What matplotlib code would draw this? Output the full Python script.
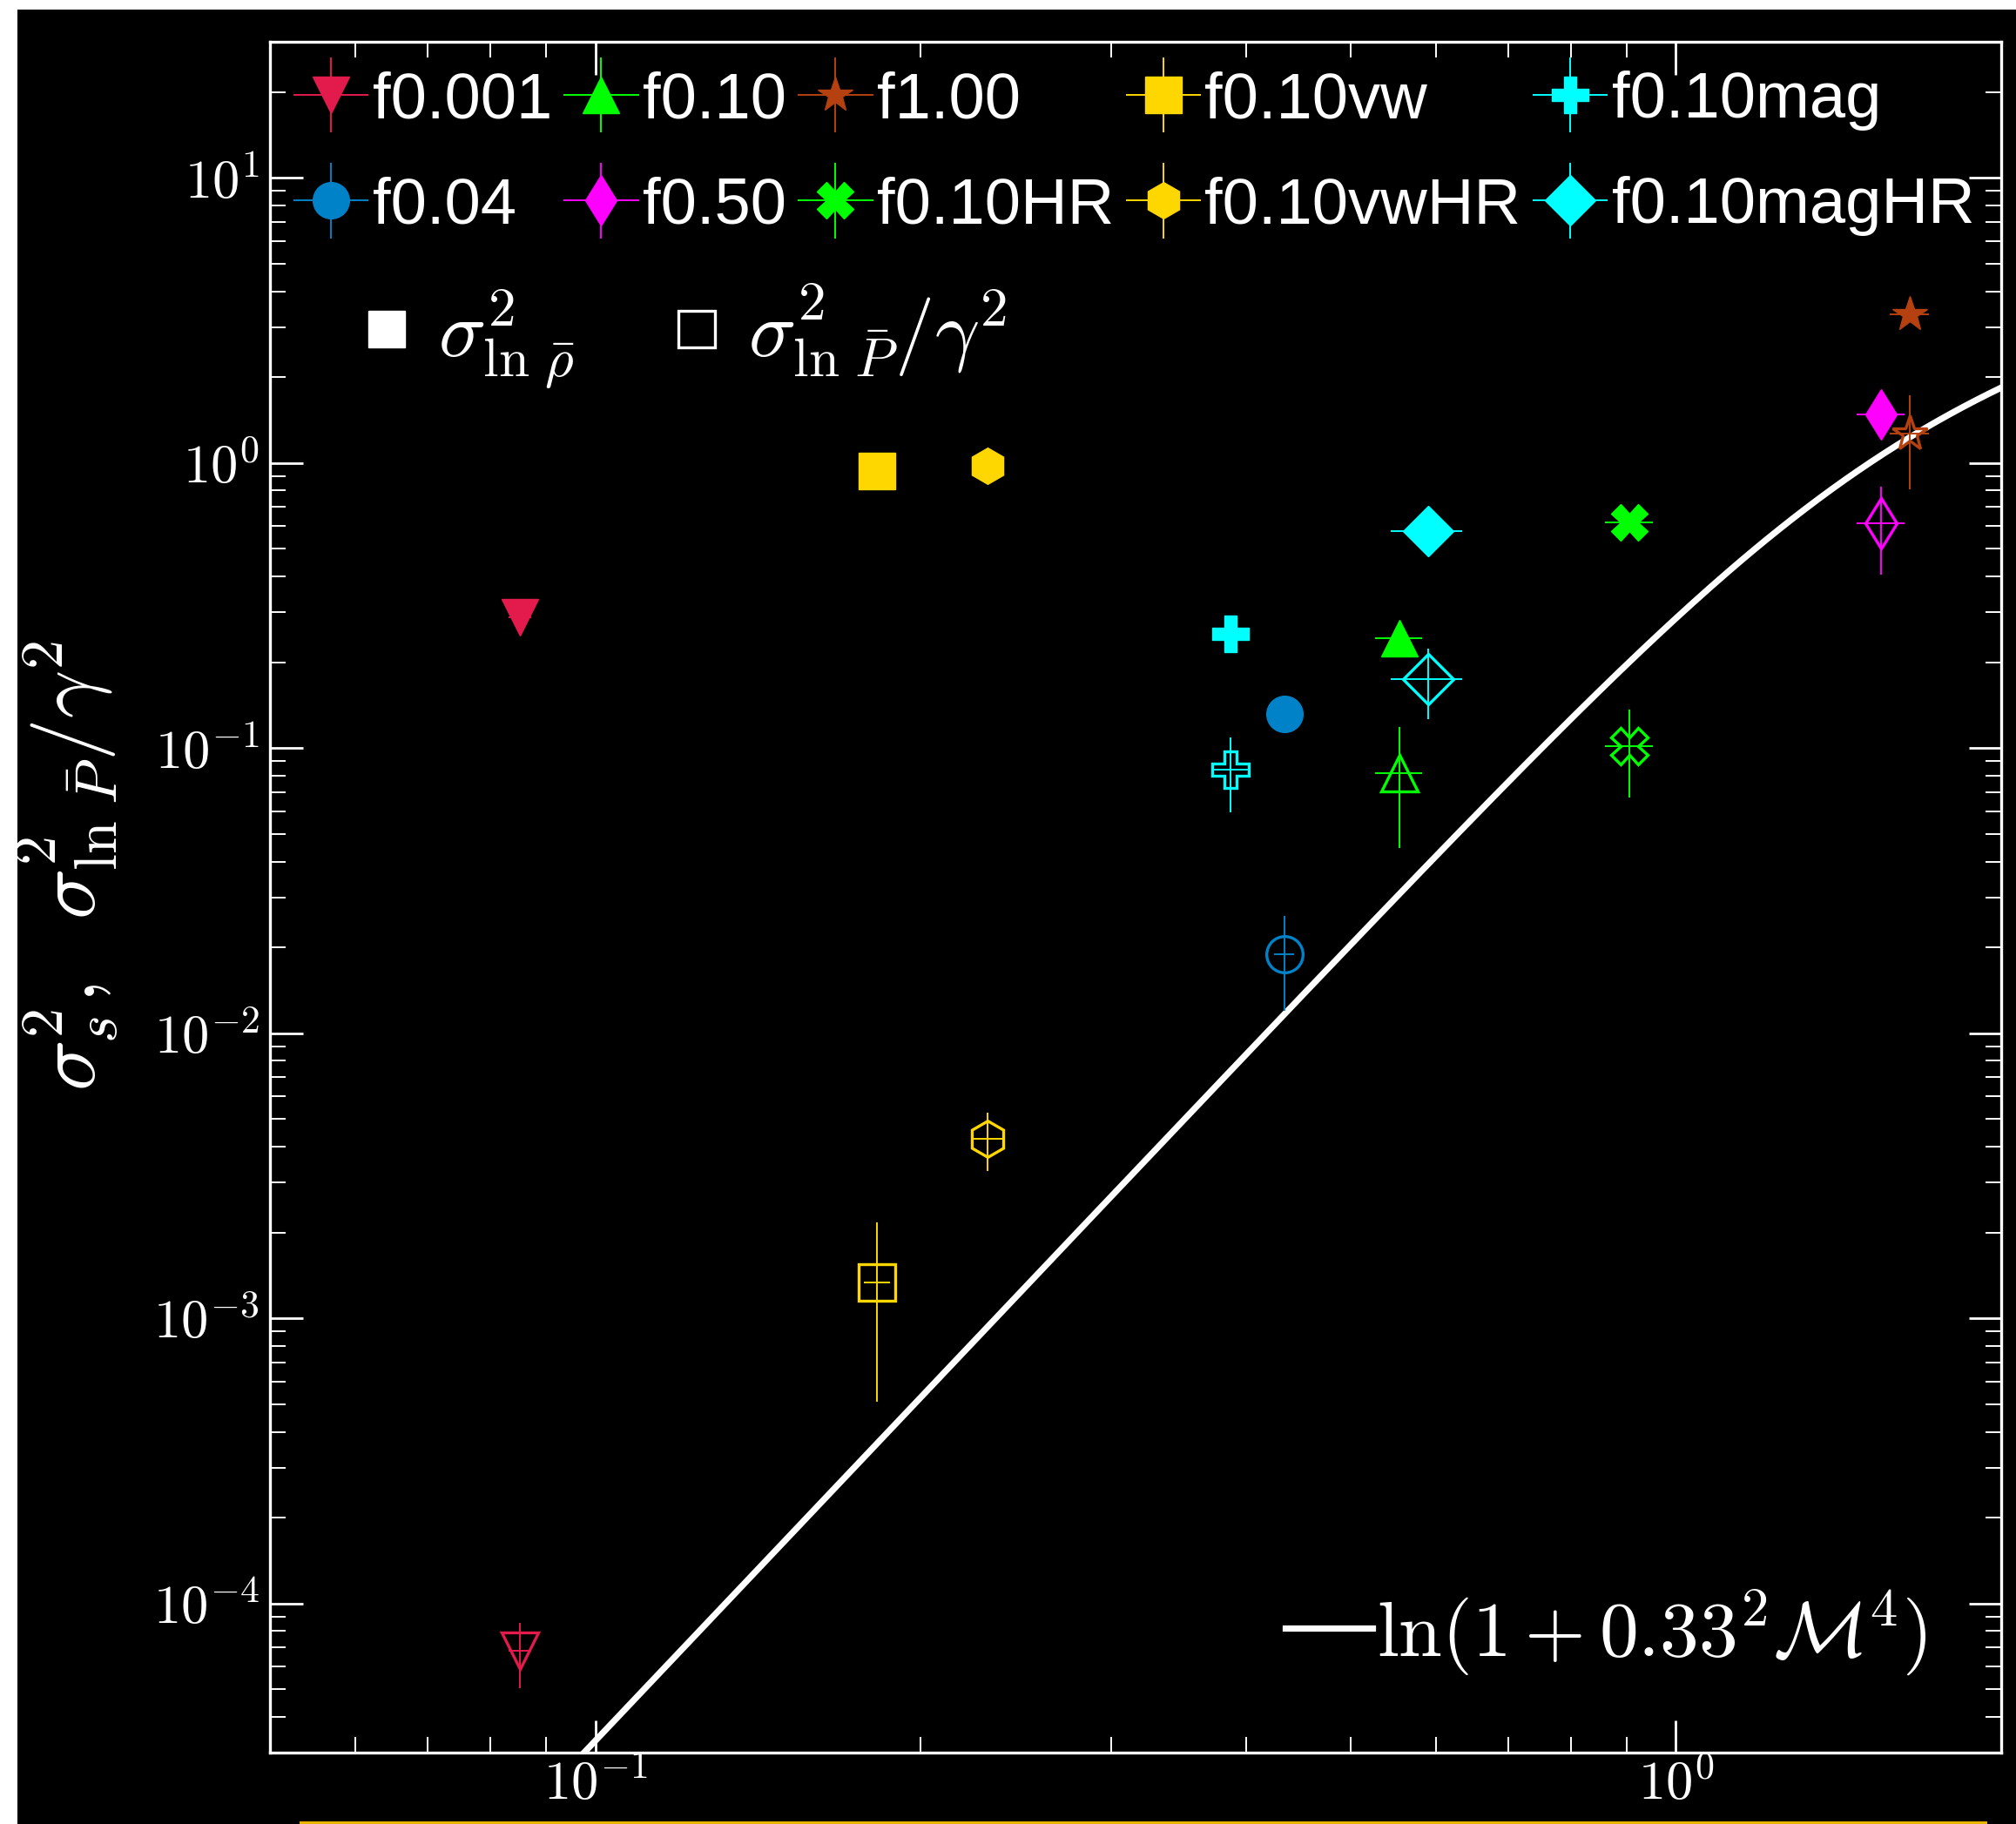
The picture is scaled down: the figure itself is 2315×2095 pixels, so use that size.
import numpy as np
import matplotlib
matplotlib.use('Agg')
import matplotlib.pyplot as plt
import matplotlib.ticker as mticker
from matplotlib.lines import Line2D
from matplotlib.patches import Rectangle
from matplotlib.legend_handler import HandlerErrorbar

plt.rcParams['mathtext.fontset'] = 'cm'
plt.rcParams['font.family'] = ['DejaVu Sans']

# ---------------- data ----------------
labels = ['f0.001', 'f0.04', 'f0.10', 'f0.50', 'f1.00',
          'f0.10HR', 'f0.10vw', 'f0.10vwHR', 'f0.10mag', 'f0.10magHR']
colors = ['#E31A4C', '#0082C8', '#00FF00', '#FF00FF', '#B4410F',
          '#00FF00', '#FFD700', '#FFD700', '#00FFFF', '#00FFFF']
markers = ['v', 'o', '^', 'd', '*', 'X', 's', 'h', 'P', 'D']

mach = [0.0852, 0.434, 0.5546, 1.549, 1.646, 0.906, 0.1823, 0.2307, 0.387, 0.5895]
mach_err = [0.002, 0.009, 0.0275, 0.079, 0.069, 0.0455, 0.005, 0.0074, 0.0147, 0.045]

sigma_rho = [0.2885, 0.132, 0.2427, 1.48, 3.32, 0.621, 0.935, 0.98, 0.251, 0.575]
sigma_rho_err = [0.008, 0.004, 0.007, 0.05, 0.10, 0.02, 0.03, 0.03, 0.008, 0.017]

sigma_p = [6.81e-5, 0.01888, 0.0815, 0.6166, 1.269, 0.1018, 1.339e-3, 4.27e-3, 0.0842, 0.1746]
sigma_p_err = [1.75e-5, 0.0069, 0.037, 0.21, 0.46, 0.0347, 8.3e-4, 9.8e-4, 0.0247, 0.048]

line_coeff = 0.33          # coefficient of the drawn model curve
model_label = r'$\ln(1+0.33^2\mathcal{M}^4)$'

x_major = [0.1, 1.0]
y_major = [1e-4, 1e-3, 1e-2, 1e-1, 1e0, 1e1]
xlim = (0.05, 2.0)
ylim = (3e-5, 30)

# ---------------- figure ----------------
W, H = 2315, 2095
fig = plt.figure(figsize=(W / 100, H / 100), dpi=100, facecolor='black')
ax = fig.add_axes([310 / W, 1 - 2013 / H, (2298 - 310) / W, (2013 - 48) / H])
ax.set_facecolor('black')

# white margins of the original crop
fig.add_artist(Rectangle((0, 0), 20 / W, 1, transform=fig.transFigure,
                         facecolor='white', edgecolor='none', zorder=-10))
fig.add_artist(Rectangle((0, 1 - 11 / H), 1, 11 / H, transform=fig.transFigure,
                         facecolor='white', edgecolor='none', zorder=-10))

ax.set_xscale('log')
ax.set_yscale('log')
ax.set_xlim(*xlim)
ax.set_ylim(*ylim)

# model curve
Ms = np.logspace(np.log10(xlim[0]), np.log10(xlim[1]), 400)
model_line, = ax.plot(Ms, np.log(1 + line_coeff * Ms**4), color='white', lw=5.2,
                      zorder=1)

handles = []
for i in range(len(labels)):
    c = colors[i]
    h = ax.errorbar(mach[i], sigma_rho[i], xerr=mach_err[i], yerr=sigma_rho_err[i],
                    fmt=markers[i], color=c, ms=30, mec=c, mfc=c,
                    elinewidth=1.4, capsize=0, zorder=3)
    handles.append(h)
    ax.errorbar(mach[i], sigma_p[i], xerr=mach_err[i], yerr=sigma_p_err[i],
                fmt=markers[i], color=c, ms=30, mec=c, mfc='none', mew=2.4,
                elinewidth=1.4, capsize=0, zorder=3)

# ticks (only inside the view limits)
def minor_ticks(lo, hi):
    vals = (np.arange(2, 10)[None, :] * 10.0 ** np.arange(-6, 3)[:, None]).ravel()
    return [v for v in vals if lo * 0.999 <= v <= hi * 1.001]

ax.xaxis.set_major_locator(mticker.FixedLocator(x_major))
ax.yaxis.set_major_locator(mticker.FixedLocator(y_major))
ax.xaxis.set_minor_locator(mticker.FixedLocator(minor_ticks(*xlim)))
ax.yaxis.set_minor_locator(mticker.FixedLocator(minor_ticks(*ylim)))
fmt = mticker.FuncFormatter(lambda v, p: r'$10^{%d}$' % int(round(np.log10(v))))
ax.xaxis.set_major_formatter(fmt)
ax.yaxis.set_major_formatter(fmt)
ax.xaxis.set_minor_formatter(mticker.NullFormatter())
ax.yaxis.set_minor_formatter(mticker.NullFormatter())
ax.tick_params(which='both', direction='in', top=True, right=True, colors='white')
ax.tick_params(which='major', length=27, width=2.0, labelsize=45)
ax.tick_params(which='minor', length=13, width=1.4)
ax.tick_params(axis='x', which='major', pad=5)
ax.tick_params(axis='y', which='major', pad=9)
for s in ax.spines.values():
    s.set_color('white')
    s.set_linewidth(2.4)

ax.set_ylabel(r'$\sigma_s^2,\ \;\sigma^2_{\ln\,\bar{P}}/\gamma^2$', color='white', fontsize=70)
ax.yaxis.set_label_coords(-0.0865, 0.5186)

# legends
leg1 = ax.legend(handles, labels, ncol=5, loc='upper left',
                 bbox_to_anchor=(0.0136, 0.983), frameon=False,
                 prop={'family': ['Liberation Sans', 'DejaVu Sans'], 'size': 53.5},
                 handler_map={type(handles[0]): HandlerErrorbar(xerr_size=0.58)},
                 handlelength=1.16, handletextpad=0.06, columnspacing=0.18,
                 labelspacing=0.7, borderpad=0, borderaxespad=0, labelcolor='white')
ax.add_artist(leg1)

sq_f = Line2D([], [], marker='s', ls='none', ms=30, color='white', mec='white')
sq_o = Line2D([], [], marker='s', ls='none', ms=30, color='white', mfc='none',
              mec='white', mew=2.4)
leg2 = ax.legend([sq_f, sq_o], [r'$\sigma^2_{\ln\,\bar{\rho}}$',
                                r'$\sigma^2_{\ln\,\bar{P}}/\gamma^2$'],
                 ncol=2, loc='center left', bbox_to_anchor=(0.0445, 0.828),
                 frameon=False, fontsize=65, handlelength=1.0, handletextpad=0.16,
                 columnspacing=1.05, borderpad=0, borderaxespad=0, labelcolor='white')
ax.add_artist(leg2)

leg3 = ax.legend([model_line], [model_label], loc='center left',
                 bbox_to_anchor=(0.5865, 0.0702), frameon=False, fontsize=64.5,
                 handlelength=1.12, handletextpad=0.05, borderpad=0, borderaxespad=0,
                 labelcolor='white')

# cut-off element at the bottom edge of the original crop
fig.add_artist(Rectangle((344 / W, 0), (2282 - 344) / W, 3 / H, transform=fig.transFigure,
                         facecolor='#E8B400', edgecolor='none'))

fig.savefig('out.png', dpi=100, facecolor='black')
